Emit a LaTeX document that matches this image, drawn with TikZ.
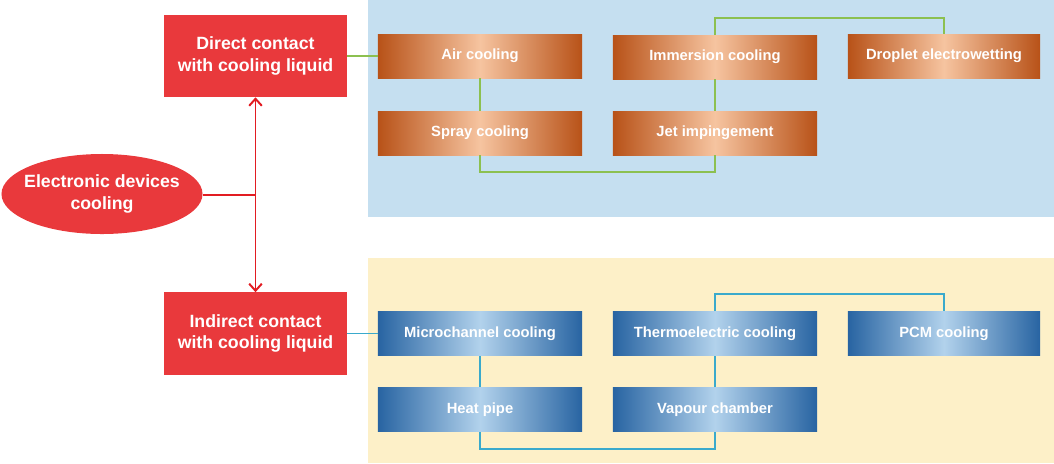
\documentclass[tikz,border=0pt]{standalone}
\usepackage{fontspec}
\setmainfont{Liberation Sans}
\usetikzlibrary{arrows.meta,positioning,calc,shapes.geometric}

\definecolor{panelblue}{RGB}{197,223,240}
\definecolor{panelyel}{RGB}{253,240,200}
\definecolor{boxred}{RGB}{233,57,60}
\definecolor{arrred}{RGB}{226,28,34}
\definecolor{orgdark}{RGB}{184,82,24}
\definecolor{orglight}{RGB}{246,196,160}
\definecolor{bludark}{RGB}{40,100,162}
\definecolor{blulight}{RGB}{178,210,236}
\definecolor{lngreen}{RGB}{140,192,80}
\definecolor{lnteal}{RGB}{58,170,204}

\begin{document}
\begin{tikzpicture}[
  x=0.025cm, y=-0.025cm,
  grp/.style={fill=boxred, minimum width=4.575cm, minimum height=2.05cm, inner sep=0pt,
              align=center, text=white, font=\bfseries\fontsize{12.6}{15.5}\selectfont},
  org/.style={left color=orgdark, right color=orgdark, middle color=orglight,
              minimum width=5.1cm, minimum height=1.1cm, inner sep=0pt,
              text=white, font=\bfseries\fontsize{10.5}{12}\selectfont},
  blu/.style={org, left color=bludark, right color=bludark, middle color=blulight},
  gl/.style={draw=lngreen, line width=1.3pt},
  tl/.style={draw=lnteal, line width=1.3pt},
  >={Straight Barb[length=5pt,width=9pt]}
]
  \useasboundingbox (0,0) rectangle (1054,463);

  % panels
  \fill[panelblue] (368,0) rectangle (1054,217);
  \fill[panelyel]  (368,258) rectangle (1054,463);

  % main blocks
  \node[ellipse, fill=boxred, minimum width=5.025cm, minimum height=2cm,
        inner xsep=-6.5pt, inner ysep=0pt,
        align=center, text=white, font=\bfseries\fontsize{12.6}{15.5}\selectfont]
        (dev) at (102,194) {Electronic devices\\cooling};
  \node[grp] (direct)   at (255.5,56)    {Direct contact\\with cooling liquid};
  \node[grp] (indirect) at (255.5,333.5) {Indirect contact\\with cooling liquid};

  \draw[arrred, line width=1.4pt, <->] (direct.south) -- (indirect.north);
  \draw[arrred, line width=1.4pt] (dev.east |- 0,195) -- (direct.south |- 0,195);

  % direct contact methods
  \node[org] (air)   at (480,56)  {Air cooling};
  \node[org] (spray) at (480,133) {Spray cooling};
  \node[org] (imm)   at (715,57)  {Immersion cooling};
  \node[org] (jet)   at (715,133) {Jet impingement};
  \node[org, minimum width=4.8cm] (drop) at (944,56) {Droplet electrowetting};

  \draw[gl] (direct.east) -- (air.west |- direct.east);
  \draw[gl] (air.south) -- (spray.north);
  \draw[gl] (spray.south) -- ++(0,17) -| (jet.south);
  \draw[gl] (jet.north) -- (imm.south);
  \draw[gl] (imm.north) -- ++(0,-17) -| (drop.north);

  % indirect contact methods
  \node[blu] (micro)  at (480,333.5) {Microchannel cooling};
  \node[blu] (hpipe)  at (480,409.5) {Heat pipe};
  \node[blu] (thermo) at (715,333.5) {Thermoelectric cooling};
  \node[blu] (vapour) at (715,409.5) {Vapour chamber};
  \node[blu, minimum width=4.8cm] (pcm) at (944,333.5) {PCM cooling};

  \draw[tl] (indirect.east) -- (micro.west |- indirect.east);
  \draw[tl] (micro.south) -- (hpipe.north);
  \draw[tl] (hpipe.south) -- ++(0,17) -| (vapour.south);
  \draw[tl] (vapour.north) -- (thermo.south);
  \draw[tl] (thermo.north) -- ++(0,-17) -| (pcm.north);
\end{tikzpicture}
\end{document}
